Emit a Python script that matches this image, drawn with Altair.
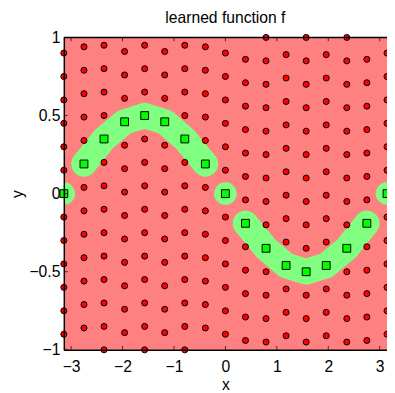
import altair as alt
import pandas as pd

# column positions (x) and the square (function) values in each column
col_x = [-3.1416, -2.75, -2.36, -1.96, -1.57, -1.18, -0.79, -0.39, 0.0,
         0.39, 0.79, 1.18, 1.57, 1.96, 2.36, 2.75, 3.1416]
square_y = [0.0, 0.19, 0.35, 0.46, 0.5, 0.46, 0.35, 0.19, 0.0,
            -0.19, -0.35, -0.46, -0.5, -0.46, -0.35, -0.19, 0.0]
# which squares the green region joins together (0 = a lone blob)
green_band = [0, 1, 1, 1, 1, 1, 1, 1, 0, 2, 2, 2, 2, 2, 2, 2, 0]
# red dots sit above/below each square at these offsets (kept inside [-1, 1])
dot_offsets = [-1.5, -1.35, -1.2, -1.05, -0.9, -0.75, -0.6, -0.45, -0.3, -0.15,
               0.15, 0.3, 0.45, 0.6, 0.75, 0.9, 1.05, 1.2, 1.35, 1.5]
x_ticks = [-3, -2, -1, 0, 1, 2, 3]
y_ticks = [-1, -0.5, 0, 0.5, 1]
x_lim = [-3.1416, 3.1416]
y_lim = [-1, 1]

squares = pd.DataFrame({"x": col_x, "y": square_y, "band": green_band})
rows = []
for cx, sy in zip(col_x, square_y):
    for o in dot_offsets:
        v = round(sy + o, 3)
        if -1.005 <= v <= 1.005:
            rows.append({"x": cx, "y": v})
dots = pd.DataFrame(rows)
bottom_t = pd.DataFrame({"x": x_ticks, "y": [y_lim[0]] * len(x_ticks)})
top_t = pd.DataFrame({"x": x_ticks, "y": [y_lim[1]] * len(x_ticks)})
left_t = pd.DataFrame({"x": [x_lim[0]] * len(y_ticks), "y": y_ticks})
top_edge = pd.DataFrame({"x": [x_lim[0]], "y": [y_lim[1]]})

FONT = "Liberation Sans"
FS = 16
xscale = alt.Scale(domain=x_lim, nice=False, zero=False)
yscale = alt.Scale(domain=y_lim, nice=False, zero=False)

x_axis = alt.Axis(values=x_ticks, format="~g", title="x", ticks=False, tickSize=0,
                  labelPadding=9, titlePadding=3, domainColor="black",
                  domainWidth=1.5, grid=False, zindex=1)
y_axis = alt.Axis(values=y_ticks, format="~g", title="y", ticks=False, tickSize=0,
                  labelPadding=4, titlePadding=4, domainColor="black",
                  domainWidth=1.5, grid=False, zindex=1)
X = alt.X("x:Q", scale=xscale, axis=x_axis)
Y = alt.Y("y:Q", scale=yscale, axis=y_axis)

bands = alt.Chart(squares).transform_filter("datum.band > 0").mark_line(
    color="#80FF80", strokeWidth=26, strokeCap="round", strokeJoin="round", clip=True
).encode(x=X, y=Y, detail="band:N", order="x:Q")

blobs = alt.Chart(squares).transform_filter("datum.band == 0").mark_circle(
    color="#80FF80", size=530, opacity=1, clip=True
).encode(x=X, y=Y)

dot_layer = alt.Chart(dots).mark_point(
    shape="circle", filled=True, fill="#FF0000", stroke="black",
    strokeWidth=1, size=38, opacity=1
).encode(x=X, y=Y)

sq_layer = alt.Chart(squares).mark_point(
    shape="square", filled=True, fill="#00FF00", stroke="black",
    strokeWidth=1, size=64, opacity=1
).encode(x=X, y=Y)

top_line = alt.Chart(top_edge).mark_rule(color="black", strokeWidth=1.5).encode(y=Y)

bottom_ticks = alt.Chart(bottom_t).mark_tick(
    orient="vertical", size=4, thickness=1, color="black", yOffset=-2
).encode(x=X, y=Y)

top_ticks = alt.Chart(top_t).mark_tick(
    orient="vertical", size=4, thickness=1, color="black", yOffset=2
).encode(x=X, y=Y)

left_ticks = alt.Chart(left_t).mark_tick(
    orient="horizontal", size=4, thickness=1, color="black", xOffset=2
).encode(x=X, y=Y)

chart = alt.layer(
    bands, blobs, dot_layer, sq_layer, top_line, bottom_ticks, top_ticks, left_ticks
).properties(
    width=330, height=319,
    title=alt.TitleParams("learned function f", font=FONT, fontSize=FS,
                          fontWeight="normal", color="black", offset=4),
    autosize=alt.AutoSizeParams(type="none"),
    padding={"left": 57, "top": 26, "right": 0, "bottom": 40},
).configure(
    background="white",
).configure_view(
    fill="#FF8080", stroke="transparent",
).configure_axis(
    labelFont=FONT, labelFontSize=FS, labelColor="black",
    titleFont=FONT, titleFontSize=FS, titleFontWeight="normal", titleColor="black",
)

chart.save("out.html", embed_options={"renderer": "svg", "actions": False})
